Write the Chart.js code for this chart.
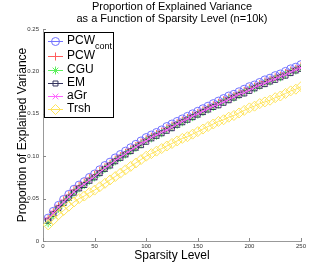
<!DOCTYPE html>
<html>
<head>
<meta charset="utf-8">
<script src="https://cdn.jsdelivr.net/npm/chart.js@4.4.0/dist/chart.umd.min.js"></script>
<style>
  body { margin: 0; background: #fff; }
  canvas { display: block; }
</style>
</head>
<body>
<canvas id="chart" width="332" height="271"></canvas>
<script>
// Sparsity levels (x) and explained variance of each method
const sparsity = [5, 10, 15, 20, 25, 30, 35, 40, 45, 50, 55, 60, 65, 70, 75, 80, 85, 90, 95, 100,
  105, 110, 115, 120, 125, 130, 135, 140, 145, 150, 155, 160, 165, 170, 175, 180, 185, 190, 195, 200,
  205, 210, 215, 220, 225, 230, 235, 240, 245, 250];

const pcwCont = [0.027, 0.035, 0.042, 0.049, 0.055, 0.061, 0.066, 0.070, 0.075, 0.079, 0.084, 0.089, 0.093, 0.098, 0.102, 0.106, 0.110, 0.114, 0.118, 0.122,
  0.125, 0.128, 0.131, 0.135, 0.138, 0.141, 0.144, 0.147, 0.150, 0.153, 0.156, 0.159, 0.162, 0.165, 0.168, 0.171, 0.173, 0.176, 0.179, 0.182,
  0.184, 0.187, 0.190, 0.192, 0.195, 0.197, 0.200, 0.203, 0.205, 0.208];
const pcw = [0.026, 0.034, 0.041, 0.048, 0.054, 0.060, 0.065, 0.069, 0.074, 0.078, 0.083, 0.087, 0.091, 0.096, 0.100, 0.104, 0.108, 0.112, 0.116, 0.120,
  0.123, 0.126, 0.129, 0.133, 0.136, 0.139, 0.142, 0.145, 0.148, 0.151, 0.154, 0.157, 0.160, 0.163, 0.166, 0.169, 0.171, 0.174, 0.177, 0.180,
  0.182, 0.185, 0.188, 0.190, 0.193, 0.195, 0.198, 0.201, 0.203, 0.206];
const cgu = [0.021, 0.030, 0.038, 0.045, 0.051, 0.057, 0.062, 0.066, 0.071, 0.075, 0.080, 0.085, 0.089, 0.094, 0.098, 0.102, 0.106, 0.110, 0.114, 0.118,
  0.121, 0.124, 0.127, 0.131, 0.134, 0.137, 0.140, 0.143, 0.146, 0.149, 0.152, 0.155, 0.158, 0.161, 0.164, 0.167, 0.169, 0.172, 0.175, 0.178,
  0.180, 0.183, 0.186, 0.188, 0.191, 0.193, 0.196, 0.199, 0.201, 0.204];
const em = [0.024, 0.032, 0.039, 0.045, 0.051, 0.057, 0.062, 0.066, 0.071, 0.075, 0.080, 0.085, 0.089, 0.094, 0.098, 0.102, 0.106, 0.110, 0.113, 0.117,
  0.121, 0.124, 0.127, 0.130, 0.133, 0.137, 0.140, 0.143, 0.146, 0.149, 0.152, 0.155, 0.158, 0.160, 0.163, 0.166, 0.169, 0.172, 0.174, 0.177,
  0.180, 0.183, 0.185, 0.188, 0.190, 0.193, 0.195, 0.198, 0.201, 0.203];
const aGr = [0.025, 0.033, 0.040, 0.046, 0.052, 0.058, 0.063, 0.067, 0.072, 0.076, 0.081, 0.086, 0.090, 0.095, 0.099, 0.103, 0.107, 0.111, 0.115, 0.118,
  0.122, 0.125, 0.128, 0.131, 0.134, 0.138, 0.141, 0.144, 0.147, 0.150, 0.153, 0.156, 0.159, 0.161, 0.164, 0.167, 0.170, 0.173, 0.175, 0.178,
  0.181, 0.184, 0.186, 0.189, 0.191, 0.194, 0.196, 0.199, 0.202, 0.204];
const trsh = [0.019, 0.025, 0.031, 0.036, 0.041, 0.046, 0.050, 0.053, 0.057, 0.060, 0.064, 0.068, 0.072, 0.076, 0.080, 0.084, 0.088, 0.092, 0.096, 0.100,
  0.103, 0.106, 0.109, 0.112, 0.115, 0.118, 0.121, 0.123, 0.126, 0.129, 0.132, 0.135, 0.138, 0.141, 0.143, 0.146, 0.148, 0.151, 0.154, 0.157,
  0.159, 0.162, 0.164, 0.166, 0.169, 0.171, 0.174, 0.177, 0.179, 0.182];

const xTicks = [0, 50, 100, 150, 200, 250];
const yTicks = [0, 0.05, 0.1, 0.15, 0.2, 0.25];

const FONT = '"Liberation Sans", Arial, Helvetica, sans-serif';

function points(values) {
  return sparsity.map((x, i) => ({ x: x, y: values[i] }));
}

function series(label, sub, values, color, style, radius, order) {
  return {
    label: label,
    sub: sub,
    data: points(values),
    borderColor: color,
    backgroundColor: 'rgba(0,0,0,0)',
    borderWidth: 1,
    pointStyle: style,
    pointRadius: radius,
    pointBorderColor: color,
    pointBackgroundColor: 'rgba(0,0,0,0)',
    pointBorderWidth: 1,
    showLine: true,
    order: order
  };
}

// Title centred over the plot area (two lines)
const titlePlugin = {
  id: 'plotTitle',
  afterDraw(chart) {
    const ctx = chart.ctx;
    const area = chart.chartArea;
    const cx = (area.left + area.right) / 2;
    ctx.save();
    ctx.fillStyle = '#000';
    ctx.font = '11px ' + FONT;
    ctx.textAlign = 'center';
    ctx.textBaseline = 'middle';
    ctx.fillText('Proportion of Explained Variance', cx, 7);
    ctx.fillText('as a Function of Sparsity Level (n=10k)', cx, 19);
    ctx.restore();
  }
};

// Small inward tick marks, matlab style
const innerTicks = {
  id: 'innerTicks',
  afterDraw(chart) {
    const ctx = chart.ctx;
    const xs = chart.scales.x, ys = chart.scales.y;
    ctx.save();
    ctx.strokeStyle = '#888';
    ctx.lineWidth = 1;
    ctx.beginPath();
    xTicks.forEach(v => {
      const px = Math.round(xs.getPixelForValue(v)) + 0.5;
      ctx.moveTo(px, ys.bottom);
      ctx.lineTo(px, ys.bottom - 3);
    });
    yTicks.forEach(v => {
      const py = Math.round(ys.getPixelForValue(v)) + 0.5;
      ctx.moveTo(xs.left, py);
      ctx.lineTo(xs.left + 3, py);
    });
    ctx.stroke();
    ctx.restore();
  }
};

// Boxed legend in the upper-left corner of the plot
const boxLegend = {
  id: 'boxLegend',
  afterDraw(chart) {
    const ctx = chart.ctx;
    const area = chart.chartArea;
    const bx = area.left + 1, by = area.top + 3, bw = 69, bh = 85;
    ctx.save();
    ctx.fillStyle = '#fff';
    ctx.fillRect(bx, by, bw, bh);
    ctx.strokeStyle = '#000';
    ctx.lineWidth = 1;
    ctx.strokeRect(bx + 0.5, by + 0.5, bw, bh);
    const rows = [by + 9, by + 24, by + 38, by + 51, by + 64, by + 77];
    chart.data.datasets.forEach((ds, i) => {
      const y = rows[i];
      ctx.strokeStyle = ds.borderColor;
      ctx.lineWidth = 1;
      ctx.beginPath();
      ctx.moveTo(bx + 4, y + 0.5);
      ctx.lineTo(bx + 19, y + 0.5);
      ctx.stroke();
      ctx.fillStyle = 'rgba(0,0,0,0)';
      if (Chart.helpers && Chart.helpers.drawPoint) {
        Chart.helpers.drawPoint(ctx, { pointStyle: ds.pointStyle, radius: ds.pointRadius, borderWidth: 1, rotation: 0 }, bx + 11.5, y + 0.5);
      }
      ctx.fillStyle = '#000';
      ctx.font = '12px ' + FONT;
      ctx.textAlign = 'left';
      ctx.textBaseline = 'middle';
      ctx.fillText(ds.label, bx + 23, y);
      if (ds.sub) {
        const w = ctx.measureText(ds.label).width;
        ctx.font = '9px ' + FONT;
        ctx.fillText(ds.sub, bx + 23 + w, y + 6);
      }
    });
    ctx.restore();
  }
};

new Chart(document.getElementById('chart'), {
  type: 'scatter',
  data: {
    datasets: [
      series('PCW', 'cont', pcwCont, '#7272ff', 'circle', 4, 6),
      series('PCW', '', pcw, '#ff5c5c', 'cross', 4, 5),
      series('CGU', '', cgu, '#5ef05e', 'star', 4, 4),
      series('EM', '', em, '#34345e', 'rect', 3.5, 3),
      series('aGr', '', aGr, '#ff66ff', 'crossRot', 4, 2),
      series('Trsh', '', trsh, '#ffe45c', 'rectRot', 5, 1)
    ]
  },
  options: {
    responsive: false,
    animation: false,
    layout: { padding: { top: 29, right: 31, left: 0, bottom: 0 } },
    plugins: {
      legend: { display: false },
      title: { display: false },
      tooltip: { enabled: false }
    },
    scales: {
      x: {
        type: 'linear',
        min: 0,
        max: 250,
        afterBuildTicks(scale) { scale.ticks = xTicks.map(v => ({ value: v })); },
        afterFit(scale) { scale.height = 30; },
        grid: { display: false, drawTicks: false },
        border: { display: true, color: '#999', width: 1 },
        ticks: { font: { size: 6, family: FONT }, color: '#333', padding: 2, maxRotation: 0 },
        title: { display: true, text: 'Sparsity Level', font: { size: 12, family: FONT }, color: '#000', padding: { top: 0, bottom: 8 } }
      },
      y: {
        type: 'linear',
        min: 0,
        max: 0.25,
        afterBuildTicks(scale) { scale.ticks = yTicks.map(v => ({ value: v })); },
        afterFit(scale) { scale.width = 43; },
        grid: { display: false, drawTicks: false },
        border: { display: true, color: '#999', width: 1 },
        ticks: { font: { size: 6, family: FONT }, color: '#333', padding: 4 },
        title: { display: true, text: 'Proportion of Explained Variance', font: { size: 12, family: FONT }, color: '#000', padding: { top: 15, bottom: 0 } }
      }
    }
  },
  plugins: [titlePlugin, innerTicks, boxLegend]
});
</script>
</body>
</html>
